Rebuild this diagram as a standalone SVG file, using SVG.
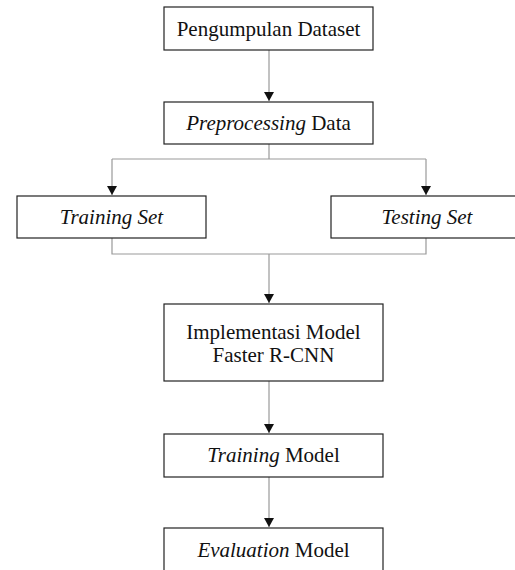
<svg xmlns="http://www.w3.org/2000/svg" width="515" height="570" viewBox="0 0 515 570">
<style>
.box{fill:#fff;stroke:#222;stroke-width:1.2}
.t{font-family:"Liberation Serif","Times New Roman",serif;font-size:21px;fill:#111;text-anchor:middle}
.i{font-style:italic}
.c{fill:none;stroke:#999;stroke-width:1.2}
</style>
<defs>
<marker id="ah" markerWidth="10" markerHeight="10" refX="9" refY="5" orient="auto" markerUnits="userSpaceOnUse">
<path d="M0,0 L9,5 L0,10 z" fill="#111"/>
</marker>
</defs>
<rect width="515" height="570" fill="#fff"/>
<g id="connectors">
<line class="c" x1="269" y1="50" x2="269" y2="101" marker-end="url(#ah)"/>
<polyline class="c" points="269,144 269,159"/>
<polyline class="c" points="112,159 426,159"/>
<line class="c" x1="112" y1="159" x2="112" y2="195" marker-end="url(#ah)"/>
<line class="c" x1="426" y1="159" x2="426" y2="195" marker-end="url(#ah)"/>
<polyline class="c" points="112,238 112,254 426,254 426,238"/>
<line class="c" x1="269" y1="254" x2="269" y2="303" marker-end="url(#ah)"/>
<line class="c" x1="269" y1="381" x2="269" y2="433" marker-end="url(#ah)"/>
<line class="c" x1="269" y1="477" x2="269" y2="527" marker-end="url(#ah)"/>
</g>
<g id="n1">
<rect class="box" x="164" y="7" width="209" height="43"/>
<text class="t" x="268.5" y="36">Pengumpulan Dataset</text>
</g>
<g id="n2">
<rect class="box" x="164" y="102" width="209" height="42"/>
<text class="t" x="268.5" y="130"><tspan class="i">Preprocessing</tspan> Data</text>
</g>
<g id="n3">
<rect class="box" x="17" y="196" width="189" height="42"/>
<text class="t i" x="111.5" y="224">Training Set</text>
</g>
<g id="n4">
<rect class="box" x="331" y="196" width="192" height="42"/>
<text class="t i" x="427" y="224">Testing Set</text>
</g>
<g id="n5">
<rect class="box" x="164" y="304" width="219" height="77"/>
<text class="t" x="273.5" y="339">Implementasi Model</text>
<text class="t" x="273.5" y="362">Faster R-CNN</text>
</g>
<g id="n6">
<rect class="box" x="164" y="434" width="219" height="43"/>
<text class="t" x="273.5" y="462"><tspan class="i">Training</tspan> Model</text>
</g>
<g id="n7">
<rect class="box" x="164" y="528" width="219" height="50"/>
<text class="t" x="273.5" y="557"><tspan class="i">Evaluation</tspan> Model</text>
</g>
</svg>
